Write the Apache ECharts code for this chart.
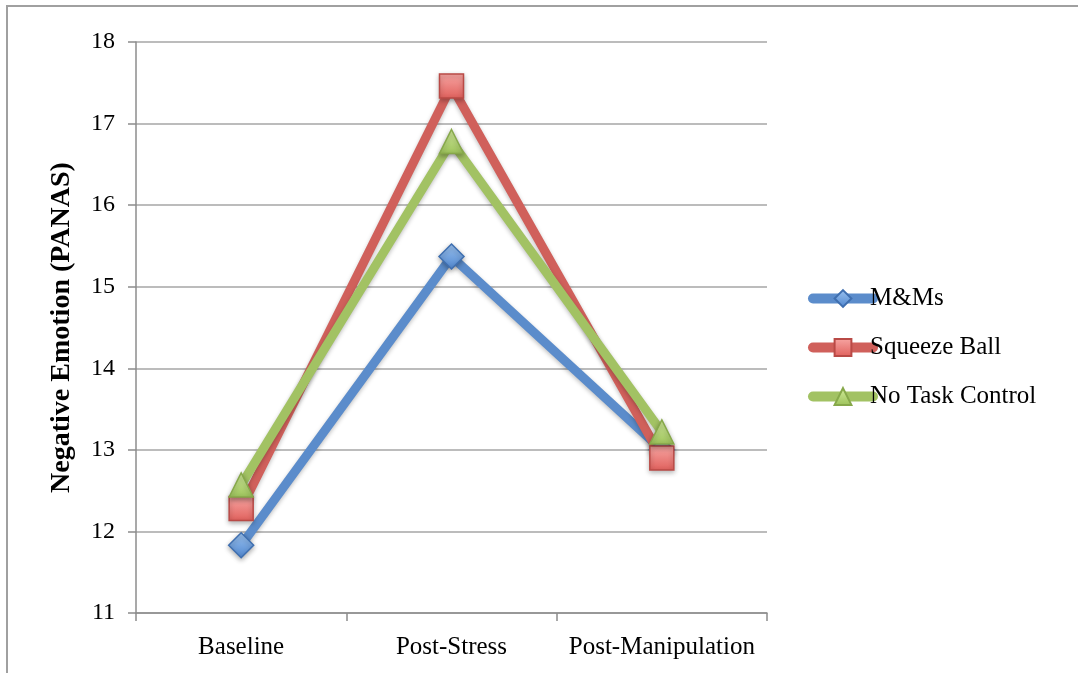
<!DOCTYPE html>
<html>
<head>
<meta charset="utf-8">
<script src="https://cdn.jsdelivr.net/npm/echarts@6/dist/echarts.min.js"></script>
<style>
  html, body { margin: 0; padding: 0; background: #fff; }
  #chart { width: 1078px; height: 673px; }
</style>
</head>
<body>
<div id="chart"></div>
<script>
// Negative emotion (PANAS) across three measurement points
const categories = ['Baseline', 'Post-Stress', 'Post-Manipulation'];
const mmsValues = [11.83, 15.37, 13.0];
const squeezeValues = [12.28, 17.46, 12.9];
const noTaskValues = [12.57, 16.78, 13.22];
const yTicks = [11, 12, 13, 14, 15, 16, 17, 18];

const serif = '"Liberation Serif", "Times New Roman", serif';

function grad(top, bottom) {
  return new echarts.graphic.LinearGradient(0, 0, 0, 1, [
    { offset: 0, color: top },
    { offset: 1, color: bottom }
  ]);
}

function makeSeries(name, data, color, symbol, size, fillTop, fillBottom, border) {
  return {
    name: name,
    type: 'line',
    data: data,
    symbol: symbol,
    symbolSize: size,
    lineStyle: { color: color, width: 9, shadowColor: 'rgba(0,0,0,0.25)', shadowBlur: 4, shadowOffsetY: 2 },
    itemStyle: {
      color: grad(fillTop, fillBottom),
      borderColor: border,
      borderWidth: 1.5,
      shadowColor: 'rgba(0,0,0,0.3)',
      shadowBlur: 5,
      shadowOffsetY: 2
    },
    emphasis: { disabled: true },
    z: 2
  };
}

const chart = echarts.init(document.getElementById('chart'), null, { renderer: 'canvas' });

chart.setOption({
  animation: false,
  backgroundColor: '#fff',
  graphic: [{
    type: 'rect',
    shape: { x: 7, y: 6, width: 1200, height: 800 },
    style: { fill: 'none', stroke: '#a0a0a0', lineWidth: 2 },
    silent: true,
    z: -1
  }],
  grid: { left: 136, right: 311, top: 42, bottom: 60 },
  legend: {
    orient: 'vertical',
    left: 803,
    top: 281,
    itemGap: 24,
    itemWidth: 60,
    itemHeight: 21,
    lineStyle: { width: 10, cap: 'round', shadowBlur: 0, shadowOffsetY: 0 },
    itemStyle: { shadowBlur: 0, shadowOffsetY: 0 },
    textStyle: { fontFamily: serif, fontSize: 25, color: '#000', padding: [0, 0, 0, -8] }
  },
  xAxis: {
    type: 'category',
    data: categories,
    boundaryGap: true,
    axisLine: { lineStyle: { color: '#8c8c8c', width: 1.5 } },
    axisTick: { show: true, length: 8, lineStyle: { color: '#8c8c8c', width: 1.5 } },
    axisLabel: { fontFamily: serif, fontSize: 25, color: '#000', margin: 22, interval: 0, hideOverlap: false },
    splitLine: { show: false }
  },
  yAxis: {
    type: 'value',
    min: yTicks[0],
    max: yTicks[yTicks.length - 1],
    interval: 1,
    name: 'Negative Emotion (PANAS)',
    nameLocation: 'middle',
    nameGap: 60,
    nameTextStyle: { fontFamily: serif, fontSize: 28, fontWeight: 'bold', color: '#000' },
    axisLine: { show: true, lineStyle: { color: '#8c8c8c', width: 1.5 } },
    axisTick: { show: true, length: 8, lineStyle: { color: '#8c8c8c', width: 1.5 } },
    axisLabel: { fontFamily: serif, fontSize: 24, color: '#000', margin: 21 },
    splitLine: { show: true, lineStyle: { color: '#a6a6a6', width: 1.5 } }
  },
  series: [
    makeSeries('M&Ms', mmsValues, '#5b8ccb', 'diamond', 25, '#9cc3f0', '#4f86cf', '#3f6fb0'),
    makeSeries('Squeeze Ball', squeezeValues, '#d0605b', 'rect', 24, '#f7a6a3', '#e0605c', '#b94a46'),
    makeSeries('No Task Control', noTaskValues, '#a2c263', 'triangle', 24, '#d3ec9c', '#9cc25a', '#86a84a')
  ]
});
</script>
</body>
</html>
